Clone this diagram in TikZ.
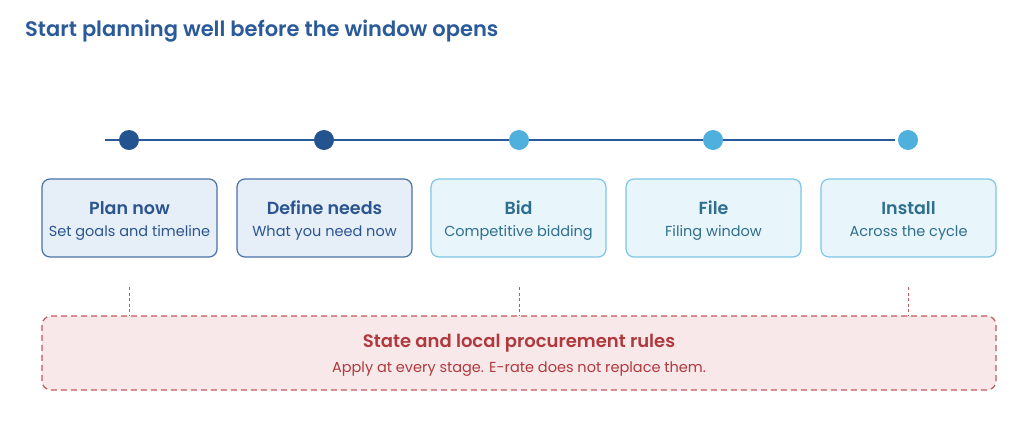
\documentclass[tikz,border=0pt]{standalone}
\usepackage{fontspec}
\setmainfont{Poppins}
\newfontfamily\semib{Poppins SemiBold}
\usetikzlibrary{calc}
\definecolor{navy}{HTML}{2A5A9A}
\definecolor{dotdark}{HTML}{24548F}
\definecolor{dotlight}{HTML}{4FB0DE}
\definecolor{darkfill}{HTML}{E6EEF8}
\definecolor{darkborder}{HTML}{4A72A8}
\definecolor{darktext}{HTML}{2B5590}
\definecolor{lightfill}{HTML}{E8F5FB}
\definecolor{lightborder}{HTML}{7CC6E8}
\definecolor{lighttext}{HTML}{2E6F8E}
\definecolor{redfill}{HTML}{F8E8E9}
\definecolor{redborder}{HTML}{C4585D}
\definecolor{redtext}{HTML}{B0393E}
\tikzset{
  stage/.style={draw, rounded corners=8pt, line width=1.2pt, minimum width=175pt, minimum height=78pt, inner sep=0pt},
  darkstage/.style={stage, fill=darkfill, draw=darkborder},
  lightstage/.style={stage, fill=lightfill, draw=lightborder},
  dottext/.style={align=center, inner sep=0pt, yshift=-3pt},
  dotdk/.style={circle, fill=dotdark, minimum size=20pt, inner sep=0pt},
  dotlt/.style={circle, fill=dotlight, minimum size=20pt, inner sep=0pt},
  link/.style={draw=redborder, line width=1pt, dash pattern=on 3pt off 2.5pt},
}
\newcommand{\headfont}{\semib\fontsize{17.5}{20}\selectfont}
\newcommand{\redheadfont}{\semib\fontsize{18}{20}\selectfont}
\newcommand{\subfont}{\fontsize{14.5}{17}\selectfont}
\begin{document}
\begin{tikzpicture}[x=1pt,y=-1pt]
\useasboundingbox (0,0) rectangle (1024,421);
\fill[white] (0,0) rectangle (1024,421);
\node[anchor=west, text=navy, inner sep=0pt] (title) at (25,31) {\semib\fontsize{21}{24}\selectfont Start planning well before the window opens};
% timeline
\coordinate (tlstart) at (105,140);
\coordinate (tlend) at (895,140);
\draw[navy, line width=2pt] (tlstart) -- (tlend);
\node[dotdk] (d1) at (129,140) {};
\node[dotdk] (d2) at (324,140) {};
\node[dotlt] (d3) at (519,140) {};
\node[dotlt] (d4) at (713,140) {};
\node[dotlt] (d5) at (908,140) {};
% stages
\node[darkstage, label={[dottext, text=darktext]center:{\headfont Plan now\\[10pt]\subfont Set goals and timeline}}] (s1) at (129.5,218) {};
\node[darkstage, label={[dottext, text=darktext]center:{\headfont Define needs\\[10pt]\subfont What you need now}}] (s2) at (324.5,218) {};
\node[lightstage, label={[dottext, text=lighttext]center:{\headfont Bid\\[10pt]\subfont Competitive bidding}}] (s3) at (518.5,218) {};
\node[lightstage, label={[dottext, text=lighttext]center:{\headfont File\\[10pt]\subfont Filing window}}] (s4) at (713.5,218) {};
\node[lightstage, label={[dottext, text=lighttext]center:{\headfont Install\\[10pt]\subfont Across the cycle}}] (s5) at (908.5,218) {};
% rules box
\node[draw=redborder, fill=redfill, line width=1.2pt, dash pattern=on 6pt off 4pt, rounded corners=9pt, minimum width=954pt, minimum height=74pt, inner sep=0pt,
  label={[dottext, yshift=0.5pt, text=redtext]center:{\redheadfont State and local procurement rules\\[9pt]\subfont Apply at every stage. E-rate does not replace them.}}] (rules) at (519,353) {};
% connectors
\coordinate (c1) at (129,287);
\coordinate (c2) at (519,287);
\coordinate (c3) at (908,287);
\draw[link] (c1) -- (c1 |- rules.north);
\draw[link] (c2) -- (c2 |- rules.north);
\draw[link] (c3) -- (c3 |- rules.north);
\end{tikzpicture}
\end{document}
